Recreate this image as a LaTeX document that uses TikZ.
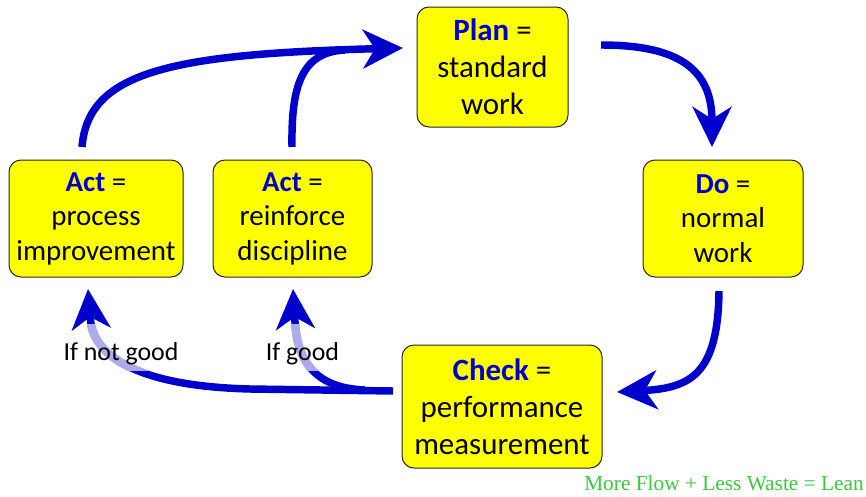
\documentclass[tikz,border=0pt]{standalone}
\usepackage{fontspec}
\setmainfont{Carlito}
\newfontfamily\footfont{Liberation Serif}
\usetikzlibrary{arrows.meta}
\definecolor{arrowblue}{RGB}{0,0,204}
\definecolor{lightarrow}{RGB}{172,172,236}
\definecolor{boxyellow}{RGB}{255,255,0}
\definecolor{footgreen}{RGB}{60,200,60}
\definecolor{kwblue}{RGB}{0,0,204}
\newcommand{\kw}[1]{\textbf{\color{kwblue}#1}}
\begin{document}
\begin{tikzpicture}[x=0.75pt,y=-0.75pt,
  box/.style={draw=black!85, line width=0.75pt, fill=boxyellow, rounded corners=9pt, align=center, inner sep=0pt},
  bigtxt/.style={font=\fontsize{23.2}{27.8}\selectfont},
  smalltxt/.style={font=\fontsize{21.7}{25.9}\selectfont},
  lbl/.style={font=\fontsize{19.4}{23}\selectfont, anchor=base},
  flow/.style={draw=arrowblue, line width=5.6pt, -{Stealth[length=30pt,width=29pt,inset=9pt]}},
  flowline/.style={draw=arrowblue, line width=5.6pt},
  lightline/.style={draw=lightarrow, line width=6.4pt}
]
\useasboundingbox (0,0) rectangle (866,496);

% boxes
\node[box,bigtxt,minimum width=113.25pt,minimum height=90pt] (plan) at (492.5,67) {\kw{Plan} =\\standard\\work};
\node[box,smalltxt,minimum width=120pt,minimum height=87.75pt] (do) at (723,218.5) {\kw{Do} =\\normal\\work};
\node[box,bigtxt,minimum width=150pt,minimum height=92.25pt] (check) at (502,406.5) {\kw{Check} =\\performance\\measurement};
\node[box,smalltxt,minimum width=130.5pt,minimum height=87.75pt] (act1) at (96,218.5) {\kw{Act} =\\process\\improvement};
\node[box,smalltxt,minimum width=119.25pt,minimum height=87.75pt] (act2) at (292.5,218.5) {\kw{Act} =\\reinforce\\discipline};

% connector end points
\coordinate (a1s) at (82,147);
\coordinate (a2s) at (292,147);
\coordinate (merge) at (345,50);
\coordinate (pin) at (403,48);
\coordinate (pout) at (601,45);
\coordinate (din) at (712,147);
\coordinate (dout) at (719,291);
\coordinate (cin) at (617,392);
\coordinate (cout) at (393,391);
\coordinate (branch) at (365,390);
\coordinate (a1in) at (88,289);
\coordinate (a2in) at (293,289);

% arrows
\draw[flow] (a1s) .. controls (88,72) and (170,54) .. (pin);
\draw[flowline] (a2s) .. controls (291,85) and (302,52) .. (merge);
\draw[flow] (pout) .. controls (680,45) and (712,70) .. (din);
\draw[flow] (dout) .. controls (718,375) and (690,388) .. (cin);
\draw[flow] (cout) -- (250,389) .. controls (130,386) and (93,352) .. (90.5,320) -- (a1in);
\draw[flow] (branch) .. controls (310,388) and (297,355) .. (295,322) -- (a2in);

% faded parts of the feedback arrows
\begin{scope}
\clip (0,324) rectangle (400,370);
\draw[lightline] (cout) -- (250,389) .. controls (130,386) and (93,352) .. (90.5,320) -- (a1in);
\draw[lightline] (branch) .. controls (310,388) and (297,355) .. (295,322) -- (a2in);
\end{scope}

% labels
\node[lbl] (lnot) at (121,360) {If not good};
\node[lbl] (lgood) at (302.5,360) {If good};

\node[anchor=base east, font=\footfont\fontsize{16}{18}\selectfont, text=footgreen, inner sep=0pt] (foot) at (864,490) {More Flow + Less Waste = Lean};
\end{tikzpicture}
\end{document}
